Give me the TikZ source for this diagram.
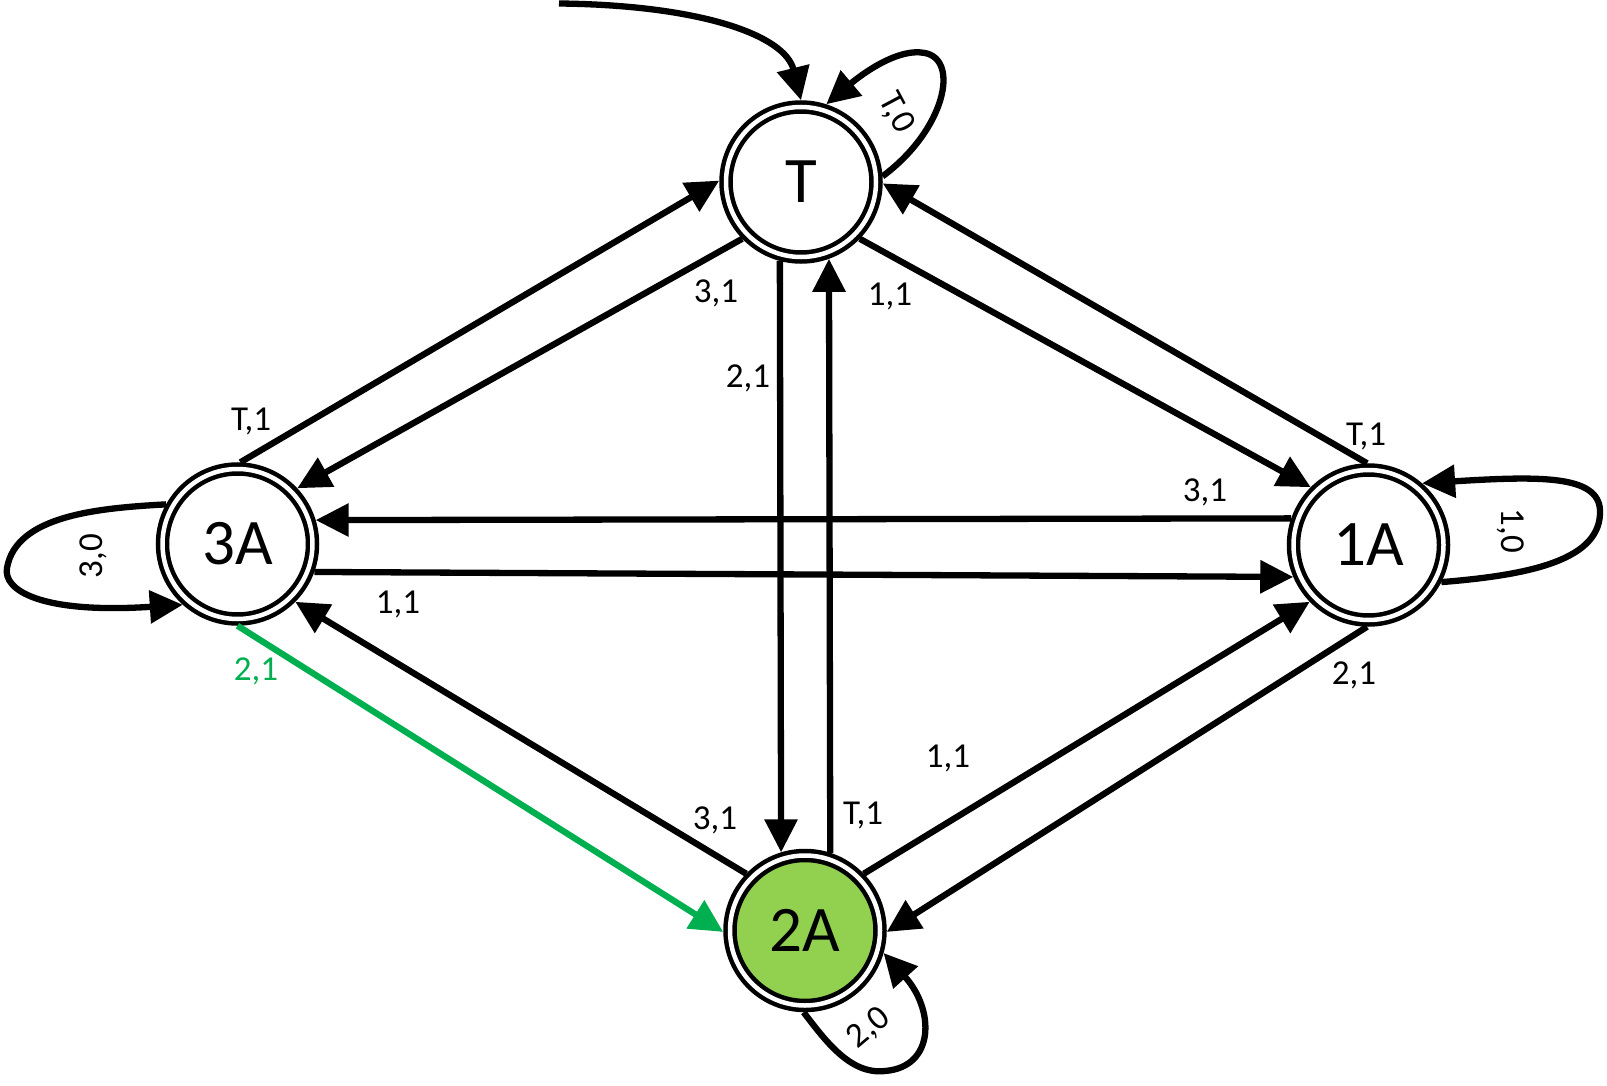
\documentclass[tikz,border=0pt]{standalone}
\usepackage{fontspec}
\setmainfont{Carlito}
\usetikzlibrary{arrows.meta}
\definecolor{lgreen}{HTML}{92D050}
\definecolor{dgreen}{HTML}{00B050}
\begin{document}
\begin{tikzpicture}[x=1pt,y=-1pt,
  stnode/.style={circle, draw=black, line width=4.5pt, double=white, double distance=4.5pt,
    minimum size=150pt, inner sep=0pt, outer sep=6.75pt, font=\fontsize{65}{78}\selectfont},
  arr/.style={line width=6.3pt, -{Triangle[length=33pt,width=32pt]}},
  lbl/.style={font=\fontsize{35}{42}\selectfont, inner sep=0pt}]
\useasboundingbox (0,0) rectangle (1607,1086);

\node[stnode] (T) at (801,182) {T};
\node[stnode] (A3) at (237.5,544) {3A};
\node[stnode] (A1) at (1368.5,545) {1A};
\node[stnode, fill=lgreen] (A2) at (805,930.5) {2A};

% initial arrow
\coordinate (init) at (559,3.5);
\draw[arr] (init) .. controls (700,5) and (785,35) .. (T.90);

% self loops
\draw[arr] (T.4) .. controls (945,130) and (960,60) .. (925,53) .. controls (895,47) and (855,80) .. (T.72);
\draw[arr] (A1.-27) .. controls (1530,575) and (1602,560) .. (1600,510) .. controls (1598,475) and (1540,476) .. (A1.49);
\draw[arr] (A3.151) .. controls (100,508) and (16,515) .. (7,568) .. controls (3,590) and (40,614) .. (A3.228);
\draw[arr] (A2.-91) .. controls (825,1040) and (850,1075) .. (885,1071) .. controls (935,1067) and (935,1010) .. (A2.-16);

% straight edges
\draw[arr] (A3.88) -- (T.179);
\draw[arr] (T.224) -- (A3.43);
\draw[arr] (T.255.1) -- (A2.107.9);
\draw[arr] (A2.72.1) -- (T.290.8);
\draw[arr] (T.-44) -- (A1.135);
\draw[arr] (A1.91) -- (T.-1);
\draw[arr] (A1.161.4) -- (A3.17.9);
\draw[arr] (A3.-20.1) -- (A1.203.1);
\draw[arr] (A2.136) -- (A3.-45);
\draw[arr, draw=dgreen, fill=dgreen] (A3.-90) -- (A2.181);
\draw[arr] (A2.44) -- (A1.224);
\draw[arr] (A1.-91) -- (A2.-1);

% labels
\node[lbl, rotate=-62] (lT0) at (896,113) {T,0};
\node[lbl, rotate=-90] (l10) at (1511,531) {1,0};
\node[lbl, rotate=90] (l30) at (93,556) {3,0};
\node[lbl, rotate=40] (l20) at (869,1028) {2,0};
\node[lbl] (lT1a) at (251,421) {T,1};
\node[lbl] (l31a) at (716,293) {3,1};
\node[lbl] (l11a) at (890,296) {1,1};
\node[lbl] (l21a) at (748,378) {2,1};
\node[lbl] (lT1b) at (1366,436) {T,1};
\node[lbl] (l31b) at (1205,492) {3,1};
\node[lbl] (l11b) at (398,604) {1,1};
\node[lbl, text=dgreen] (l21g) at (256,671) {2,1};
\node[lbl] (l31c) at (715,820) {3,1};
\node[lbl] (lT1c) at (863,815) {T,1};
\node[lbl] (l11c) at (948,758) {1,1};
\node[lbl] (l21c) at (1354,675) {2,1};
\end{tikzpicture}
\end{document}
